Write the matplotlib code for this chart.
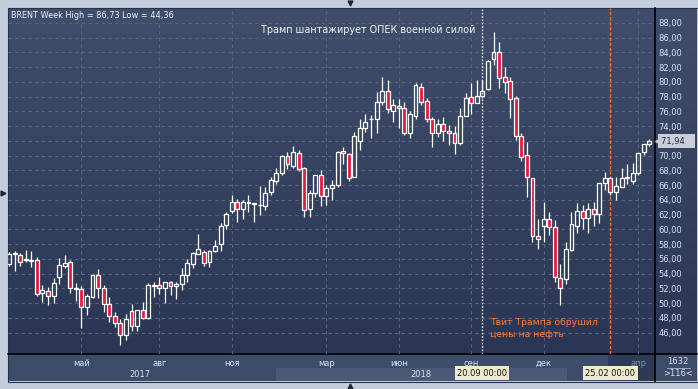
import numpy as np
import pandas as pd
import matplotlib
matplotlib.use('Agg')
import matplotlib.pyplot as plt
import matplotlib.transforms as mtransforms
from matplotlib.patches import Rectangle

W, H = 698, 389

# Brent, weekly candles (week starts)
week_start = '2017-01-30'
opens = [55.3, 56.6, 56.5, 55.85, 55.9, 55.8, 51.4, 51.7, 50.9, 53.5,
         55.0, 55.6, 51.95, 51.9, 49.5, 50.8, 53.8, 52.1, 49.9, 48.3,
         47.25, 45.7, 48.9, 46.9, 49.1, 48.0, 52.5, 52.4, 52.0, 52.8,
         52.3, 52.6, 53.8, 55.3, 56.7, 56.9, 55.6, 57.0, 57.95, 60.6,
         62.5, 63.65, 62.7, 63.6, 63.6, 63.25, 63.2, 65.1, 66.6, 67.7,
         69.9, 68.6, 70.35, 68.3, 62.7, 64.9, 67.3, 64.55, 65.6, 65.95,
         70.6, 70.2, 67.1, 72.0, 73.7, 74.9, 74.95, 77.2, 78.75, 76.0,
         76.65, 76.4, 73.1, 75.4, 79.3, 77.4, 74.9, 73.0, 74.3, 73.3,
         73.0, 71.7, 75.4, 77.9, 77.1, 78.1, 79.0, 83.1, 84.1, 80.7,
         80.15, 77.75, 72.7, 70.1, 67.0, 59.1, 60.4, 61.4, 60.3, 53.4,
         53.2, 57.2, 60.5, 62.5, 61.5, 62.8, 62.1, 66.3, 66.9, 65.0,
         65.8, 66.9, 66.5, 67.6, 70.5, 71.56]
highs = [56.9, 57.0, 56.8, 57.25, 57.0, 56.3, 52.5, 52.2, 53.4, 56.1,
         56.5, 55.9, 52.7, 52.3, 51.3, 53.9, 54.6, 52.5, 50.8, 48.8,
         47.9, 48.5, 49.9, 49.1, 50.2, 52.7, 52.8, 53.6, 52.9, 53.0,
         52.9, 54.8, 56.0, 56.9, 59.3, 57.25, 57.25, 58.5, 60.8, 62.4,
         64.65, 64.05, 64.0, 64.6, 63.6, 65.9, 65.8, 67.05, 68.3, 70.1,
         70.5, 71.3, 70.75, 68.5, 65.3, 67.3, 68.0, 66.0, 66.7, 70.6,
         71.2, 70.3, 73.25, 74.9, 75.6, 75.5, 78.6, 80.6, 80.3, 77.6,
         77.6, 77.2, 76.0, 79.9, 79.8, 77.8, 75.2, 74.9, 75.2, 74.1,
         74.0, 76.4, 78.5, 79.8, 80.2, 80.2, 83.0, 86.73, 85.45, 82.0,
         80.7, 78.1, 73.0, 71.9, 67.0, 61.4, 63.7, 62.3, 61.3, 55.3,
         58.3, 62.4, 63.6, 63.3, 63.6, 63.7, 66.3, 67.8, 67.1, 67.1,
         68.3, 68.9, 69.0, 70.4, 71.6, 72.2]
lows = [55.0, 54.4, 55.0, 55.55, 54.9, 51.0, 50.2, 49.7, 50.0, 52.6,
        54.7, 51.4, 50.3, 46.6, 48.4, 50.7, 50.7, 48.8, 47.5, 46.7,
        44.36, 45.0, 46.2, 46.2, 47.8, 47.9, 50.8, 51.2, 50.0, 51.1,
        50.5, 51.8, 52.9, 54.8, 56.7, 55.0, 54.9, 56.9, 57.0, 60.0,
        62.2, 61.0, 61.4, 62.4, 61.0, 61.95, 62.6, 64.65, 66.1, 67.4,
        68.2, 68.3, 67.9, 61.7, 61.7, 64.4, 63.1, 63.3, 64.0, 65.8,
        68.9, 66.6, 67.1, 70.75, 73.25, 72.4, 73.1, 76.9, 75.7, 74.5,
        73.7, 72.8, 72.4, 74.9, 76.9, 74.5, 71.1, 72.5, 72.0, 71.4,
        70.2, 71.4, 75.3, 75.6, 77.1, 77.8, 78.9, 82.3, 79.1, 78.5,
        75.1, 72.1, 69.2, 64.4, 58.3, 57.3, 58.3, 59.2, 52.9, 49.75,
        52.6, 57.1, 59.5, 60.0, 59.5, 60.5, 60.9, 65.3, 64.6, 64.0,
        65.7, 66.1, 66.2, 67.4, 70.1, 71.3]
closes = [56.7, 56.8, 55.6, 55.95, 55.65, 51.2, 51.8, 50.9, 52.7, 55.2,
          55.5, 52.0, 52.1, 49.5, 50.9, 53.8, 52.1, 49.9, 48.3, 47.3,
          45.65, 47.8, 46.9, 49.1, 48.0, 52.5, 52.3, 52.0, 52.8, 52.3,
          52.6, 53.8, 55.5, 56.8, 57.3, 55.5, 57.1, 57.8, 60.4, 62.1,
          63.65, 62.7, 63.65, 63.75, 63.4, 63.3, 64.95, 66.7, 67.7, 69.9,
          68.8, 70.5, 68.2, 62.6, 64.9, 67.3, 64.5, 65.55, 66.0, 70.5,
          70.3, 66.9, 72.65, 73.7, 74.55, 75.0, 77.2, 78.75, 76.35, 76.85,
          76.4, 73.0, 75.6, 79.5, 77.3, 74.9, 73.0, 74.3, 73.3, 73.0,
          71.7, 75.4, 77.75, 77.1, 78.1, 78.8, 82.75, 84.1, 80.5, 80.0,
          77.7, 72.6, 69.85, 67.1, 59.1, 58.65, 61.4, 60.3, 53.5, 52.1,
          57.3, 60.7, 62.5, 61.5, 62.8, 62.1, 66.3, 66.9, 65.0, 65.9,
          67.0, 67.1, 67.6, 70.4, 71.5, 71.94]

month_ticks = ['2017-05', '2017-08', '2017-11', '2018-03', '2018-06',
               '2018-09', '2018-12', '2019-04']
month_labels = ['май', 'авг', 'ноя', 'мар', 'июн', 'сен', 'дек', 'апр']
year_labels = ['2017', '2018']
event_dates = ['2018-09-20', '2019-02-25']
event_labels = ['20.09 00:00', '25.02 00:00']
total_bars = 1632

title = 'BRENT Week High = 86,73 Low = 44,36'
note_top = 'Трамп шантажирует ОПЕК военной силой'
note_bottom = 'Твит Трампа обрушил\nцены на нефть'

FONT = 'DejaVu Sans'
TXT = '#d9e3f2'
RED = '#e8183c'


def fx(x):
    return x / W


def fy(y):
    return 1 - y / H


o = np.array(opens)
h = np.array(highs)
l = np.array(lows)
c = np.array(closes)
n = len(c)
idx = np.arange(n)
dates = pd.date_range(week_start, periods=n, freq='W-MON')

fig = plt.figure(figsize=(W / 100, H / 100), dpi=100, facecolor='#c3cddb')

# ---------------- window chrome (pixel coordinates) ----------------
bg = fig.add_axes([0, 0, 1, 1])
bg.set_xlim(0, W)
bg.set_ylim(H, 0)
bg.axis('off')
grad = np.linspace(0, 1, 256)[:, None]
top_rgb = np.array([0x40, 0x4e, 0x6b]) / 255
bot_rgb = np.array([0x2a, 0x36, 0x53]) / 255
img = top_rgb[None, None, :] * (1 - grad[..., None]) + bot_rgb[None, None, :] * grad[..., None]
bg.imshow(img, extent=[8, 697, 354, 8], aspect='auto', zorder=0)
bg.add_patch(Rectangle((8, 354), 689, 27, facecolor='#3d4c69', edgecolor='none', zorder=1))
bg.add_patch(Rectangle((276, 368), 291, 13, facecolor='#4a5976', edgecolor='none', zorder=1))
bg.add_patch(Rectangle((608, 355), 47, 26, facecolor='#2d3a56', edgecolor='none', zorder=1))
bg.add_patch(Rectangle((7.5, 7.5), 690, 374, facecolor='none', edgecolor='#26324a', lw=0.8, zorder=2))
bg.plot([655, 655], [8, 381], color='black', lw=1.2, zorder=3)
bg.plot([8, 697], [354, 354], color='black', lw=1.2, zorder=3)
bg.plot([667, 690], [368, 368], color='#aab6c8', lw=0.6, zorder=3)
bg.text(678, 362, str(total_bars), color=TXT, fontsize=6, family=FONT, ha='center', va='center', zorder=3)
bg.text(678, 374, f'>{n}<', color=TXT, fontsize=6, family=FONT, ha='center', va='center', zorder=3)
bg.plot([3], [193], marker='>', color='#1c2638', ms=3.5, zorder=3)
bg.plot([350], [3], marker='v', color='#1c2638', ms=3.5, zorder=3)
bg.plot([350], [385.5], marker='^', color='#1c2638', ms=3.5, zorder=3)

# ---------------- price chart ----------------
ax = fig.add_axes([fx(8), fy(354), fx(655) - fx(8), fy(8) - fy(354)])
ax.patch.set_alpha(0)
ax.set_xlim(-0.18, 116.0)
ax.set_ylim(43.1, 90.0)
for s in ax.spines.values():
    s.set_visible(False)

yt = np.arange(46, 90, 2)
ax.set_yticks(yt)
# the label next to the last-price tag is hidden, as in the terminal
ax.set_yticklabels(['' if abs(v - c[-1]) < 1.2 else f'{v:.2f}'.replace('.', ',') for v in yt])
ax.yaxis.tick_right()

mt = [int(np.argmax(dates >= pd.Timestamp(m + '-01'))) for m in month_ticks]
ax.set_xticks(mt)
ax.set_xticklabels(month_labels)
yr_pos = [idx[dates.year == int(y)].mean() for y in year_labels]
ax.set_xticks(yr_pos, minor=True)
ax.set_xticklabels(year_labels, minor=True)

ax.tick_params(axis='both', which='both', length=0, colors=TXT, labelsize=6)
ax.tick_params(axis='y', pad=2.3)
ax.tick_params(axis='x', which='major', pad=3.5)
ax.tick_params(axis='x', which='minor', pad=11.5)
for t in ax.get_xticklabels() + ax.get_yticklabels() + ax.get_xticklabels(minor=True):
    t.set_family(FONT)
ax.get_xticklabels()[-1].set_color('#7f8eaa')

ax.grid(True, which='major', color='#56647f', lw=0.8, linestyle=(0, (3, 3)))
ax.set_axisbelow(True)

# candles
up = c >= o
body_lo = np.minimum(o, c)
body_hi = np.maximum(o, c)
ax.vlines(idx, body_hi, h, color='white', lw=0.9, zorder=3)
ax.vlines(idx, l, body_lo, color='white', lw=0.9, zorder=3)
height = np.maximum(body_hi - body_lo, 0.08)
ax.bar(idx[up], height[up], bottom=body_lo[up], width=0.7,
       facecolor='none', edgecolor='white', lw=0.9, zorder=4)
ax.bar(idx[~up], height[~up], bottom=body_lo[~up], width=0.7,
       facecolor=RED, edgecolor='white', lw=0.9, zorder=4)

# event lines
ev = [int(np.searchsorted(dates, pd.Timestamp(d), side='right') - 1) for d in event_dates]
ax.axvline(ev[0], color='#e6e6e6', lw=1.0, linestyle=(0, (1.2, 1.2)), zorder=2)
ax.axvline(ev[1], color='#ff6a35', lw=1.0, linestyle=(0, (2.5, 1.2)), zorder=2)
bt = mtransforms.blended_transform_factory(ax.transData, ax.transAxes)
for e, lab in zip(ev, event_labels):
    ax.text(e, -0.055, lab, transform=bt, ha='center', va='center', fontsize=6,
            family=FONT, color='#111111', clip_on=False, zorder=6,
            bbox=dict(boxstyle='square,pad=0.25', facecolor='#eeebcb', edgecolor='none'))

# last price tag
rt = mtransforms.blended_transform_factory(ax.transAxes, ax.transData)
ax.text(1.009, c[-1], f'{c[-1]:.2f}'.replace('.', ',') + '   ', transform=rt, ha='left', va='center',
        fontsize=6, family=FONT, color='#1b2a48', clip_on=False, zorder=6,
        bbox=dict(boxstyle='square,pad=0.3', facecolor='#c9ced8', edgecolor='none'))
ax.plot([1.004], [c[-1]], marker='<', color='#c9ced8', ms=4, transform=rt, clip_on=False, zorder=6)

# texts
ax.text(0.004, 0.978, title, transform=ax.transAxes, ha='left', va='center',
        fontsize=5.9, family=FONT, color='#eef2f8')
ax.text(ev[0] - 1.3, 87.0, note_top, ha='right', va='center', fontsize=6.9,
        family=FONT, color='#f2f4f8')
ax.text(ev[0] + 1.4, 46.5, note_bottom, ha='left', va='center', fontsize=6.7,
        family=FONT, color='#ff7a3a', linespacing=1.45)

fig.savefig('out.png', dpi=100)
